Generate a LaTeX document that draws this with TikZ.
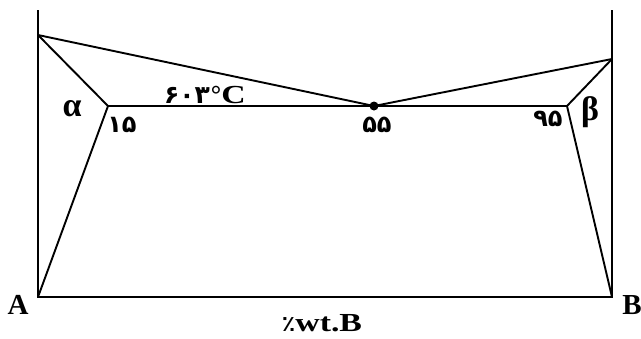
\documentclass[tikz,border=0pt]{standalone}
\usepackage{fontspec}
\setmainfont{Liberation Serif}
\newfontfamily\fa[Script=Arabic]{DejaVu Sans}
\tikzset{
  ln/.style={line width=1.9pt, line join=miter},
  lbl/.style={inner sep=0pt, anchor=center},
  fanum/.style={lbl, font=\fa\bfseries\fontsize{24}{24}\selectfont},
  corner/.style={lbl, font=\bfseries\fontsize{29}{29}\selectfont},
  greek/.style={lbl, font=\bfseries\fontsize{34}{34}\selectfont}
}
\begin{document}
\begin{tikzpicture}[x=1pt,y=-1pt]
\useasboundingbox (0,0) rectangle (641,338);
\coordinate (LT) at (38,10);
\coordinate (RT) at (612,10);
\coordinate (LB) at (38,297);
\coordinate (RB) at (612,297);
\coordinate (TA) at (38,35);
\coordinate (TB) at (612,59);
\coordinate (KA) at (108,106);
\coordinate (KB) at (567,106);
\coordinate (E) at (374,106);
% frame
\draw[ln] (LT) -- (LB) -- (RB) -- (RT);
% liquidus
\draw[ln] (TA) -- (E) -- (TB);
% eutectic line
\draw[ln] (KA) -- (KB);
% solvus / solidus
\draw[ln] (TA) -- (KA) -- (LB);
\draw[ln] (TB) -- (KB) -- (RB);
\fill (E) circle (4.5pt);
% labels
\node[greek] (alpha) at (72,109) {α};
\node[greek] (beta) at (590,112) {β};
\node[fanum] (n15) at (122,125) {۱۵};
\node[fanum] (n55) at (377,125) {۵۵};
\node[fanum] (n95) at (548,119) {۹۵};
\node[lbl, anchor=base west] (temp) at (164,103) {\fa\bfseries\fontsize{25}{25}\selectfont ۶۰۳\hspace{1pt}{\fontspec{Liberation Serif}\bfseries\fontsize{26}{26}\selectfont\textdegree\scalebox{1.3}[1]{C}}};
\node[lbl, anchor=base] (xlab) at (322,331) {{\fa\bfseries\fontsize{22}{22}\selectfont ٪}\scalebox{1.3}[1]{\bfseries\fontsize{26}{26}\selectfont wt.B}};
\node[corner] (A) at (18,305) {A};
\node[corner] (B) at (632,305) {B};
\end{tikzpicture}
\end{document}
